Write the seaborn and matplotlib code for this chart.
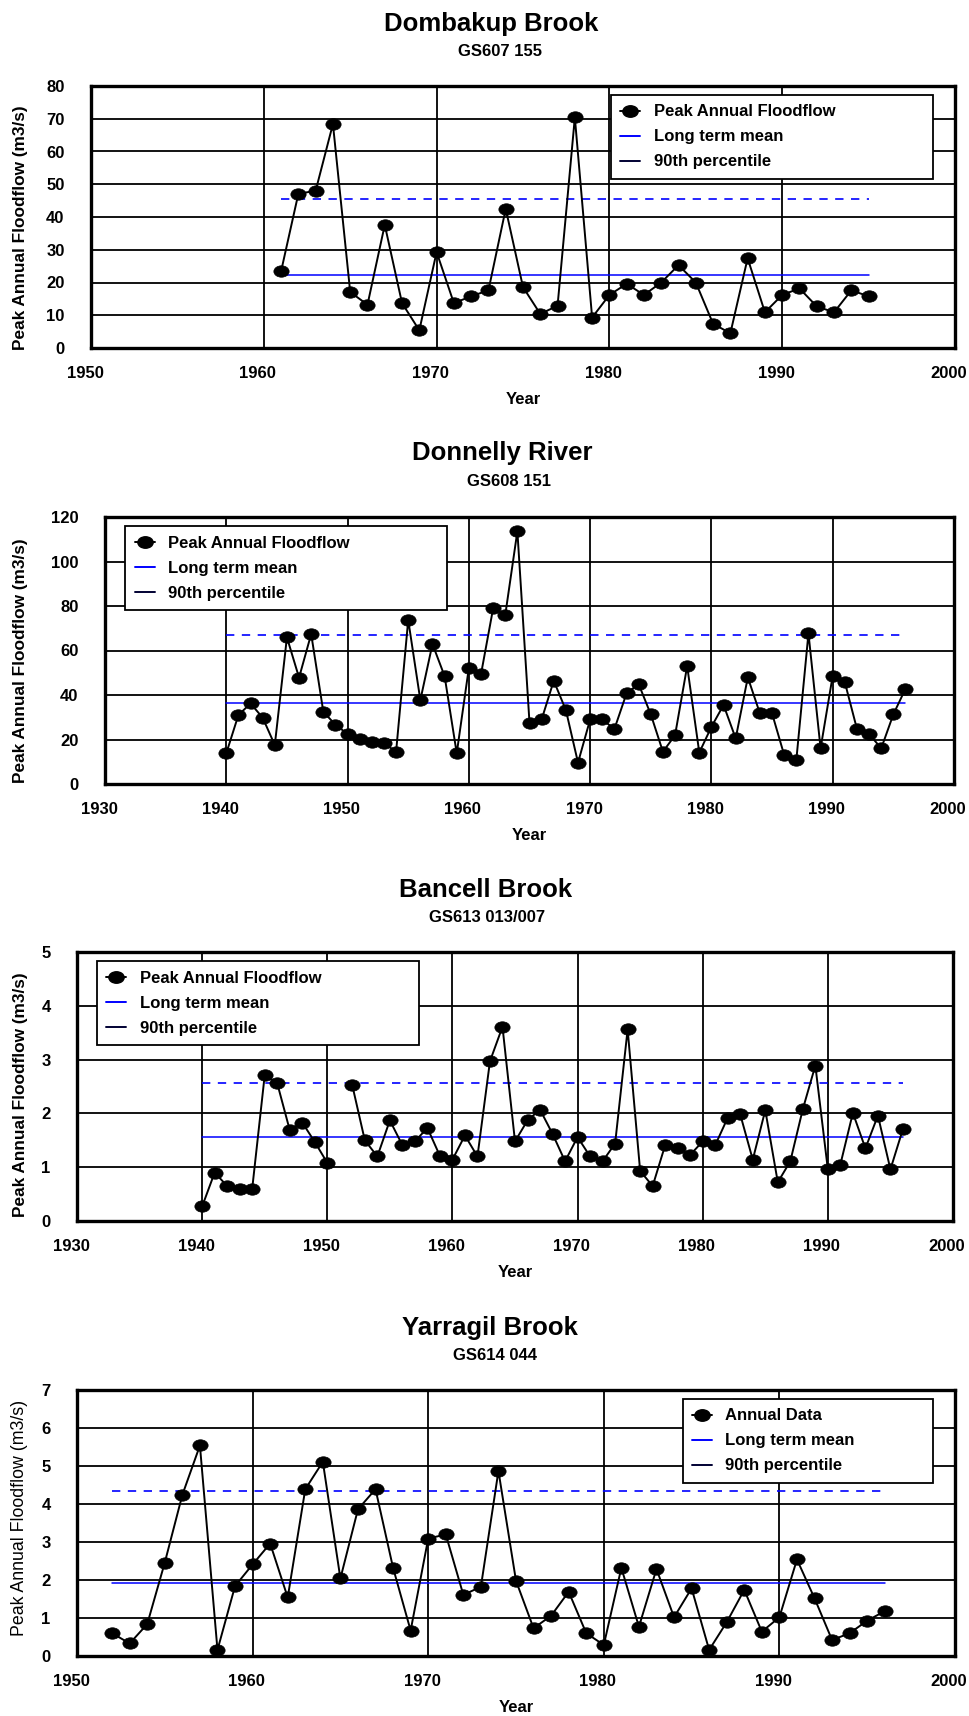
import numpy as np
import pandas as pd
import seaborn as sns
import matplotlib
matplotlib.use("Agg")
import matplotlib.pyplot as plt
from matplotlib.lines import Line2D
from matplotlib.path import Path
from matplotlib.transforms import Affine2D, ScaledTranslation

# ---- data ----
# Dombakup Brook GS607 155
dom_years = list(range(1961, 1996))
dom_flow = [23.4, 47.1, 48.0, 68.4, 17.1, 13.2, 37.6, 13.7, 5.4, 29.3,
            13.7, 15.8, 17.6, 42.5, 18.6, 10.4, 12.9, 70.4, 9.3, 16.2,
            19.6, 16.2, 20.0, 25.3, 20.0, 7.4, 4.5, 27.4, 10.9, 16.2,
            18.2, 12.7, 10.9, 17.6, 15.8]
dom_mean = 22.2
dom_p90 = 45.6
dom_span = [1961, 1995]

# Donnelly River GS608 151
don_years = list(range(1940, 1997))
don_flow = [13.8, 31.0, 36.2, 29.8, 17.5, 65.9, 47.8, 67.4, 32.5, 26.6,
            22.5, 20.2, 18.7, 18.3, 14.5, 73.7, 37.7, 62.9, 48.5, 13.8,
            52.2, 49.3, 78.9, 75.9, 113.6, 27.5, 29.0, 46.4, 33.2, 9.6,
            29.0, 29.0, 24.7, 40.7, 44.9, 31.3, 14.5, 21.9, 53.0, 14.1,
            25.7, 35.5, 20.5, 47.9, 31.7, 31.7, 13.0, 10.8, 67.7, 16.0,
            48.7, 45.7, 24.7, 22.5, 16.0, 31.3, 42.8]
don_mean = 36.5
don_p90 = 66.9
don_span = [1940, 1996]

# Bancell Brook GS613 013/007 (no record for 1951)
ban_years = list(range(1940, 1997))
ban_flow = [0.27, 0.90, 0.65, 0.60, 0.60, 2.71, 2.56, 1.69, 1.83, 1.47,
            1.08, np.nan, 2.52, 1.50, 1.20, 1.87, 1.41, 1.48, 1.73, 1.21,
            1.14, 1.59, 1.20, 2.97, 3.61, 1.48, 1.87, 2.07, 1.62, 1.11,
            1.56, 1.20, 1.11, 1.44, 3.56, 0.93, 0.65, 1.41, 1.35, 1.23,
            1.48, 1.41, 1.92, 1.98, 1.14, 2.06, 0.72, 1.11, 2.08, 2.89,
            0.96, 1.05, 2.01, 1.35, 1.96, 0.96, 1.71]
ban_mean = 1.57
ban_p90 = 2.57
ban_span = [1940, 1996]

# Yarragil Brook GS614 044
yar_years = list(range(1952, 1997))
yar_flow = [0.60, 0.33, 0.84, 2.46, 4.24, 5.54, 0.16, 1.84, 2.41, 2.96,
            1.54, 4.39, 5.11, 2.04, 3.86, 4.39, 2.32, 0.67, 3.09, 3.20,
            1.61, 1.82, 4.87, 1.98, 0.73, 1.06, 1.69, 0.60, 0.29, 2.32,
            0.77, 2.29, 1.02, 1.78, 0.16, 0.89, 1.74, 0.64, 1.02, 2.54,
            1.52, 0.42, 0.60, 0.93, 1.18]
yar_mean = 1.91
yar_p90 = 4.33
yar_span = [1952, 1996]

sns.set_theme(style="white")
plt.rcParams["font.family"] = ["Liberation Sans", "DejaVu Sans"]
plt.rcParams.update({"text.color": "black", "axes.labelcolor": "black",
                     "xtick.color": "black", "ytick.color": "black"})

W, H = 969, 1716
fig = plt.figure(figsize=(W / 100, H / 100), dpi=100)

# elliptical marker, wider than tall
ell = Affine2D().scale(1.0, 0.75).transform_path(Path.unit_circle())
BLUE = "#0000ff"


def px_axes(left, right, top, bottom):
    return fig.add_axes([left / W, 1 - bottom / H, (right - left) / W, (bottom - top) / H])


def draw_panel(ax, years, flow, mean, p90, span, xlim, ylim, ystep,
               first_label, leg_x, leg_w, ylab_y, ylab_bold=True):
    df = pd.DataFrame({"year": years, "flow": flow})
    # split the series where a year is missing so the line breaks there
    df["seg"] = df["flow"].isna().cumsum()
    df = df.dropna()
    sns.lineplot(data=df, x="year", y="flow", units="seg", estimator=None,
                 color="black", lw=1.4, marker=ell, markersize=11,
                 markeredgecolor="black", markerfacecolor="black",
                 markeredgewidth=0.5, ax=ax, zorder=4)
    ref = pd.DataFrame({"year": span, "mean": [mean, mean], "p90": [p90, p90]})
    sns.lineplot(data=ref, x="year", y="mean", color=BLUE, lw=1.1, ax=ax, zorder=3)
    sns.lineplot(data=ref, x="year", y="p90", color=BLUE, lw=1.2,
                 dashes=(5, 4.5), ax=ax, zorder=3)

    ax.set_xlim(*xlim)
    ax.set_ylim(*ylim)
    ax.set_xticks(np.arange(xlim[0], xlim[1] + 1, 10))
    ax.set_yticks(np.arange(ylim[0], ylim[1] + ystep / 2, ystep))
    ax.grid(True, color="black", lw=1.3)
    ax.set_axisbelow(True)
    for s in ax.spines.values():
        s.set_color("black")
        s.set_linewidth(2.4)
    ax.tick_params(length=0, labelsize=12)
    ax.tick_params(axis="x", pad=13)
    ax.tick_params(axis="y", pad=19)
    shift = ScaledTranslation(-6 / 100, 0, fig.dpi_scale_trans)
    for t in ax.get_xticklabels():
        t.set_fontweight("bold")
        t.set_transform(t.get_transform() + shift)
    for t in ax.get_yticklabels():
        t.set_fontweight("bold")
    ax.set_xlabel("Year", fontsize=12, fontweight="bold", labelpad=8)
    ax.set_ylabel("Peak Annual Floodflow (m3/s)",
                  fontsize=12.4 if ylab_bold else 12.8,
                  fontweight="bold" if ylab_bold else "normal")
    pos = ax.get_position()
    ax.yaxis.set_label_coords((28 / W - pos.x0) / pos.width, ylab_y)

    handles = [
        Line2D([], [], color="black", lw=1.4, marker=ell, markersize=11),
        Line2D([], [], color=BLUE, lw=1.4),
        Line2D([], [], color="#000033", lw=1.4),
    ]
    labels = [first_label, "Long term mean", "90th percentile"]
    leg = ax.legend(handles, labels, loc="upper left", mode="expand",
                    bbox_to_anchor=(leg_x, 0, leg_w, 0.965), borderaxespad=0,
                    prop={"weight": "bold", "size": 12},
                    handlelength=1.2, handletextpad=0.8, labelspacing=0.6,
                    borderpad=0.55, fancybox=False, framealpha=1,
                    edgecolor="black")
    leg.get_frame().set_linewidth(1.3)
    leg.set_zorder(6)


def titles(xc, y_title, xs, y_sub, title, sub):
    fig.text(xc / W, 1 - y_title / H, title, ha="center", va="center",
             fontsize=18.5, fontweight="bold")
    fig.text(xs / W, 1 - y_sub / H, sub, ha="center", va="center",
             fontsize=12, fontweight="bold")


ax1 = px_axes(91, 955, 86, 348)
draw_panel(ax1, dom_years, dom_flow, dom_mean, dom_p90, dom_span,
           (1950, 2000), (0, 80), 10, "Peak Annual Floodflow", 0.602, 0.373, 0.458)
titles(491, 24, 500, 51, "Dombakup Brook", "GS607 155")

ax2 = px_axes(105, 954, 517, 784)
draw_panel(ax2, don_years, don_flow, don_mean, don_p90, don_span,
           (1930, 2000), (0, 120), 20, "Peak Annual Floodflow", 0.024, 0.379, 0.46)
titles(502, 453, 509, 481, "Donnelly River", "GS608 151")

ax3 = px_axes(77, 953, 952, 1221)
draw_panel(ax3, ban_years, ban_flow, ban_mean, ban_p90, ban_span,
           (1930, 2000), (0, 5), 1, "Peak Annual Floodflow", 0.023, 0.367, 0.468)
titles(486, 890, 487, 917, "Bancell Brook", "GS613 013/007")

ax4 = px_axes(77, 955, 1390, 1656)
draw_panel(ax4, yar_years, yar_flow, yar_mean, yar_p90, yar_span,
           (1950, 2000), (0, 7), 1, "Annual Data", 0.690, 0.285, 0.519,
           ylab_bold=False)
titles(490, 1328, 495, 1355, "Yarragil Brook", "GS614 044")

fig.savefig("out.png", dpi=100)
